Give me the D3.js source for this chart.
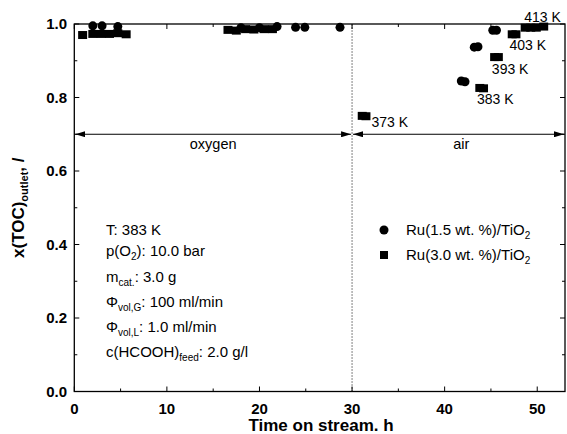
<!DOCTYPE html>
<html><head><meta charset="utf-8">
<script src="https://cdn.jsdelivr.net/npm/d3@7"></script>
<style>body{margin:0;background:#fff}svg{display:block;font-family:"Liberation Sans",Arial,sans-serif}</style>
</head><body>
<svg id="c" width="567" height="434"></svg>
<script>
// Ru(1.5 wt.%)/TiO2 — circles
const ru15Time = [2.0, 3.0, 4.7, 18.0, 20.0, 21.9, 23.9, 24.9, 28.7, 41.8, 42.2, 43.2, 43.6, 45.2, 45.6];
const ru15X    = [0.995, 0.995, 0.993, 0.990, 0.990, 0.993, 0.991, 0.991, 0.991, 0.845, 0.843, 0.937, 0.938, 0.983, 0.983];
// Ru(3.0 wt.%)/TiO2 — squares
const ru30Time = [0.9, 2.0, 2.9, 3.8, 4.7, 5.6, 16.6, 17.5, 18.5, 19.4, 20.5, 21.4, 31.1, 31.5, 43.8, 44.2, 45.4, 45.8, 47.3, 47.7, 48.7, 49.3, 49.9, 50.7];
const ru30X    = [0.970, 0.973, 0.973, 0.973, 0.975, 0.972, 0.984, 0.982, 0.986, 0.985, 0.986, 0.986, 0.750, 0.749, 0.826, 0.825, 0.910, 0.910, 0.972, 0.972, 0.990, 0.990, 0.990, 0.993];
const tempLabels = ["373 K", "383 K", "393 K", "403 K", "413 K"];
const tempLabelPos = [[32.1, 0.720], [43.5, 0.782], [45.1, 0.864], [47.0, 0.928], [48.6, 1.006]];
const xTicks = [0, 10, 20, 30, 40, 50];
const yTicks = [0.0, 0.2, 0.4, 0.6, 0.8, 1.0];
const regions = ["oxygen", "air"];
const regionBounds = [[0, 30], [30, 53]];
const legendLabels = ["Ru(1.5 wt. %)/TiO", "Ru(3.0 wt. %)/TiO"];

const svg = d3.select("#c");
const L = 74.3, R = 565, T = 24, B = 391.5;
const x = d3.scaleLinear().domain([0, 53]).range([L, R]);
const y = d3.scaleLinear().domain([0, 1]).range([B, T]);

// frame
svg.append("rect").attr("x", L).attr("y", T).attr("width", R - L).attr("height", B - T)
  .attr("fill", "none").attr("stroke", "#000").attr("stroke-width", 1.3);

// ticks (inward, mirrored)
const xMinor = d3.range(5, 53, 10);
const yMinor = d3.range(0.1, 1.0, 0.2);
const g = svg.append("g").attr("stroke", "#000").attr("stroke-width", 1);
xTicks.forEach(v => { g.append("line").attr("x1", x(v)).attr("x2", x(v)).attr("y1", B).attr("y2", B - 5);
  g.append("line").attr("x1", x(v)).attr("x2", x(v)).attr("y1", T).attr("y2", T + 5); });
xMinor.forEach(v => { g.append("line").attr("x1", x(v)).attr("x2", x(v)).attr("y1", B).attr("y2", B - 3);
  g.append("line").attr("x1", x(v)).attr("x2", x(v)).attr("y1", T).attr("y2", T + 3); });
yTicks.forEach(v => { g.append("line").attr("x1", L).attr("x2", L + 5).attr("y1", y(v)).attr("y2", y(v));
  g.append("line").attr("x1", R).attr("x2", R - 5).attr("y1", y(v)).attr("y2", y(v)); });
yMinor.forEach(v => { g.append("line").attr("x1", L).attr("x2", L + 3).attr("y1", y(v)).attr("y2", y(v));
  g.append("line").attr("x1", R).attr("x2", R - 3).attr("y1", y(v)).attr("y2", y(v)); });

// tick labels
svg.append("g").selectAll("text").data(xTicks).join("text")
  .attr("x", d => x(d)).attr("y", 414).attr("text-anchor", "middle")
  .attr("font-size", 15).attr("font-weight", "bold").text(d => d);
svg.append("g").selectAll("text").data(yTicks).join("text")
  .attr("x", 67).attr("y", d => y(d) + 5).attr("text-anchor", "end")
  .attr("font-size", 15).attr("font-weight", "bold").text(d => d.toFixed(1));

// axis titles
svg.append("text").attr("x", 321).attr("y", 431).attr("text-anchor", "middle")
  .attr("font-size", 17).attr("font-weight", "bold").text("Time on stream. h");
const yt = svg.append("text").attr("transform", `translate(24,${(T + B) / 2}) rotate(-90)`)
  .attr("text-anchor", "middle").attr("font-size", 17).attr("font-weight", "bold");
yt.append("tspan").text("x(TOC)");
yt.append("tspan").attr("font-size", 11).attr("dy", 4).text("outlet");
yt.append("tspan").attr("dy", -4).text(", /");

// dotted divider
svg.append("line").attr("x1", x(30)).attr("x2", x(30)).attr("y1", y(0)).attr("y2", y(1))
  .attr("stroke", "#000").attr("stroke-width", 1).attr("stroke-dasharray", "1,2");

// region arrows
const defs = svg.append("defs");
defs.append("marker").attr("id", "ah").attr("viewBox", "0 0 10 6").attr("refX", 10).attr("refY", 3)
  .attr("markerWidth", 10).attr("markerHeight", 6).attr("markerUnits", "userSpaceOnUse").attr("orient", "auto-start-reverse")
  .append("path").attr("d", "M0,0L10,3L0,6Z").attr("fill", "#000");
const ay = y(0.70);
regionBounds.forEach((b, i) => {
  svg.append("line").attr("x1", x(b[0]) + 1).attr("x2", x(b[1]) - 1).attr("y1", ay).attr("y2", ay)
    .attr("stroke", "#000").attr("stroke-width", 1)
    .attr("marker-start", "url(#ah)").attr("marker-end", "url(#ah)");
  svg.append("text").attr("x", x(i === 0 ? 15 : 41.8)).attr("y", ay + 15).attr("text-anchor", "middle")
    .attr("font-size", 14.5).text(regions[i]);
});

// data markers
svg.append("g").selectAll("circle").data(ru15Time).join("circle")
  .attr("cx", d => x(d)).attr("cy", (d, i) => y(ru15X[i])).attr("r", 4.5).attr("fill", "#000");
svg.append("g").selectAll("rect").data(ru30Time).join("rect")
  .attr("x", d => x(d) - 4.5).attr("y", (d, i) => y(ru30X[i]) - 4).attr("width", 9).attr("height", 8).attr("fill", "#000");

// temperature labels
svg.append("g").selectAll("text").data(tempLabels).join("text")
  .attr("x", (d, i) => x(tempLabelPos[i][0])).attr("y", (d, i) => y(tempLabelPos[i][1]))
  .attr("font-size", 14).text(d => d);

// legend
svg.append("circle").attr("cx", 384).attr("cy", 230).attr("r", 4.5).attr("fill", "#000");
svg.append("rect").attr("x", 380).attr("y", 251).attr("width", 8).attr("height", 8).attr("fill", "#000");
legendLabels.forEach((t, i) => {
  const tx = svg.append("text").attr("x", 406).attr("y", 235 + i * 25).attr("font-size", 15);
  tx.append("tspan").text(t);
  tx.append("tspan").attr("font-size", 10).attr("dy", 4).text("2");
});

// conditions annotation
const ann = [
  [["T: 383 K", 0]],
  [["p(O", 0], ["2", 1], ["): 10.0 bar", 0]],
  [["m", 0], ["cat.", 1], [": 3.0 g", 0]],
  [["Φ", 0], ["vol,G", 1], [": 100 ml/min", 0]],
  [["Φ", 0], ["vol,L", 1], [": 1.0 ml/min", 0]],
  [["c(HCOOH)", 0], ["feed", 1], [": 2.0 g/l", 0]]
];
const annY = [235, 256, 281.5, 306.5, 331.5, 356.5];
ann.forEach((parts, i) => {
  const t = svg.append("text").attr("x", 106).attr("y", annY[i]).attr("font-size", 15);
  let sub = 0;
  parts.forEach(p => {
    const s = t.append("tspan").text(p[0]);
    if (p[1] && !sub) { s.attr("font-size", 10).attr("dy", 4); sub = 1; }
    else if (!p[1] && sub) { s.attr("dy", -4); sub = 0; }
  });
});
</script>
</body></html>
